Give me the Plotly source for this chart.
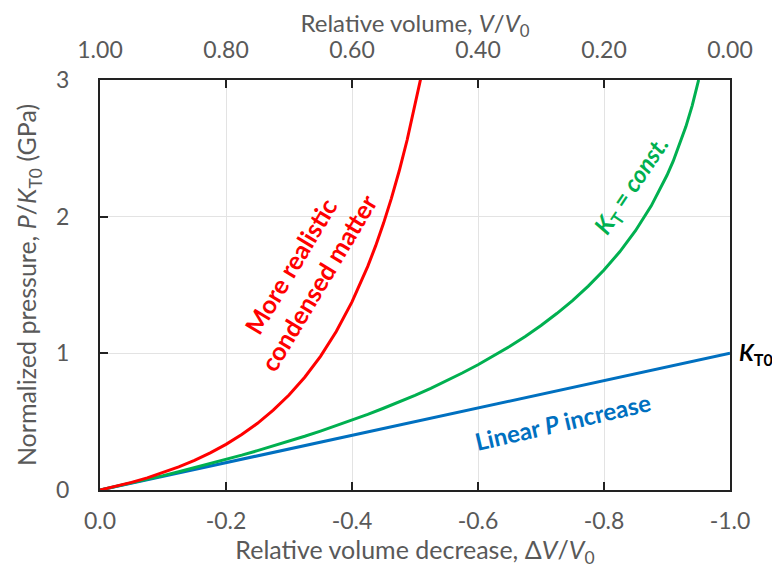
import plotly.graph_objects as go

# Relative volume decrease, ΔV/V0
x_linear = [0.0, -1.0]
p_linear = [0.0, 1.0]

x_kconst = [0.0, -0.025, -0.05, -0.075, -0.1, -0.125, -0.15, -0.175, -0.2, -0.225, -0.25,
            -0.275, -0.3, -0.325, -0.35, -0.375, -0.4, -0.425, -0.45, -0.475, -0.5,
            -0.525, -0.55, -0.575, -0.6, -0.625, -0.65, -0.675, -0.7, -0.725, -0.75,
            -0.775, -0.8, -0.825, -0.85, -0.875, -0.9, -0.91, -0.92, -0.93, -0.94, -0.95, -0.9502]
p_kconst = [0.0, 0.025, 0.051, 0.078, 0.105, 0.134, 0.163, 0.192, 0.223, 0.255, 0.288,
            0.322, 0.357, 0.393, 0.431, 0.470, 0.511, 0.553, 0.598, 0.644, 0.693,
            0.744, 0.799, 0.856, 0.916, 0.981, 1.050, 1.124, 1.204, 1.291, 1.386,
            1.492, 1.609, 1.743, 1.897, 2.079, 2.303, 2.408, 2.526, 2.659, 2.813, 2.996, 3.0]

x_real = [0.0, -0.025, -0.05, -0.075, -0.1, -0.125, -0.15, -0.175, -0.2, -0.225, -0.25,
          -0.275, -0.3, -0.325, -0.35, -0.375, -0.4, -0.425, -0.4375, -0.45, -0.4625,
          -0.475, -0.4875, -0.5, -0.51]
p_real = [0.0, 0.026, 0.056, 0.089, 0.127, 0.169, 0.217, 0.272, 0.334, 0.406, 0.488,
          0.584, 0.695, 0.825, 0.978, 1.160, 1.376, 1.636, 1.786, 1.951, 2.134,
          2.336, 2.561, 2.811, 3.03]

bottom_tickvals = [0.0, -0.2, -0.4, -0.6, -0.8, -1.0]
bottom_ticktext = ["0.0", "-0.2", "-0.4", "-0.6", "-0.8", "-1.0"]
top_tickvals = [1.0, 0.8, 0.6, 0.4, 0.2, 0.0]
top_ticktext = ["1.00", "0.80", "0.60", "0.40", "0.20", "0.00"]
y_tickvals = [0, 1, 2, 3]

RED = "#FF0000"
GREEN = "#00B050"
BLUE = "#0070C0"
GRAY = "#595959"
FONT = "Lato"
TICK = 23
TITLE = 25

fig = go.Figure()
fig.add_trace(go.Scatter(x=x_linear, y=p_linear, mode="lines",
                         line=dict(color=BLUE, width=3), showlegend=False))
fig.add_trace(go.Scatter(x=x_kconst, y=p_kconst, mode="lines",
                         line=dict(color=GREEN, width=3), showlegend=False))
fig.add_trace(go.Scatter(x=x_real, y=p_real, mode="lines",
                         line=dict(color=RED, width=3), showlegend=False))
# invisible trace to activate top axis
fig.add_trace(go.Scatter(x=[1.0, 0.0], y=[0, 0], xaxis="x2", mode="lines",
                         line=dict(width=0), hoverinfo="skip", showlegend=False))

fig.update_layout(
    width=772, height=569,
    margin=dict(l=92, r=50, t=72, b=87),
    paper_bgcolor="white", plot_bgcolor="white",
    font=dict(family=FONT, size=TICK, color=GRAY),
    xaxis=dict(
        range=[0, -1.0], tickvals=bottom_tickvals, ticktext=bottom_ticktext,
        showgrid=True, gridcolor="#E3E3E3", gridwidth=1,
        showline=True, linecolor="#222", linewidth=2, mirror="ticks",
        ticks="inside", ticklen=8, tickwidth=2, tickcolor="#222",
        zeroline=False, ticklabelstandoff=9, automargin=False,
        title=dict(text="Relative volume decrease, Δ<i>V</i>/<i>V</i><sub>0</sub>",
                   font=dict(size=TITLE, color=GRAY), standoff=8),
        tickfont=dict(size=TICK, color=GRAY),
    ),
    xaxis2=dict(
        overlaying="x", side="top", range=[1.0, 0.0],
        tickvals=top_tickvals, ticktext=top_ticktext,
        showgrid=False, showline=False, ticks="", zeroline=False,
        ticklabelstandoff=16, automargin=False,
        title=dict(text="Relative volume, <i>V</i>/<i>V</i><sub>0</sub>",
                   font=dict(size=24, color=GRAY), standoff=2),
        tickfont=dict(size=TICK, color=GRAY),
    ),
    yaxis=dict(
        range=[0, 3], tickvals=y_tickvals,
        showgrid=True, gridcolor="#E3E3E3", gridwidth=1,
        showline=True, linecolor="#222", linewidth=2, mirror=True,
        ticks="inside", ticklen=8, tickwidth=2, tickcolor="#222",
        zeroline=False, automargin=False,
        title=dict(text="Normalized pressure, <i>P</i>/<i>K</i><sub>T0</sub> (GPa)",
                   font=dict(size=TITLE, color=GRAY), standoff=12),
        tickfont=dict(size=TICK, color=GRAY),
        ticklabelstandoff=24,
    ),
)

fig.add_annotation(x=-0.324, y=1.58, xref="x", yref="y",
                   text="<b>More realistic<br>condensed matter</b>",
                   showarrow=False, textangle=-59,
                   font=dict(family=FONT, size=25, color=RED))
fig.add_annotation(x=-0.845, y=2.23, xref="x", yref="y",
                   text="<b><i>K</i><sub>T</sub> = <i>const.</i></b>",
                   showarrow=False, textangle=-56,
                   font=dict(family=FONT, size=24, color=GREEN))
fig.add_annotation(x=-0.735, y=0.5, xref="x", yref="y",
                   text="<b>Linear <i>P</i> increase</b>",
                   showarrow=False, textangle=-13,
                   font=dict(family=FONT, size=24, color=BLUE))
fig.add_annotation(x=1.0, y=1.0, xref="paper", yref="y", xanchor="left",
                   xshift=7,
                   text="<b><i>K</i><sub>T0</sub></b>",
                   showarrow=False,
                   font=dict(family=FONT, size=23, color="black"))

fig.write_html("out.html")
